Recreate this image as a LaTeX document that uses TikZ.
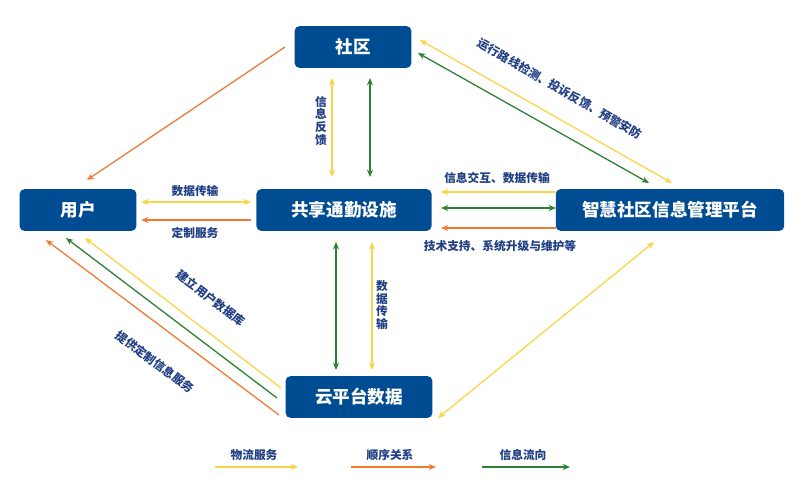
\documentclass[tikz,border=0pt]{standalone}
\usepackage{fontspec}
\setmainfont{Noto Sans CJK SC}
\usetikzlibrary{positioning,calc,arrows.meta}
\definecolor{boxblue}{RGB}{0,76,146}
\definecolor{txtblue}{RGB}{32,62,132}
\definecolor{ylw}{RGB}{250,212,70}
\definecolor{org}{RGB}{240,122,52}
\definecolor{grn}{RGB}{46,128,52}
\tikzset{
every picture/.style={line width=1.1pt},
bluebox/.style={rectangle, rounded corners=4pt, fill=boxblue, text=white, font=\bfseries\fontsize{15}{15}\selectfont, minimum height=1.25cm, inner sep=2pt},
lbl/.style={text=txtblue, font=\bfseries\fontsize{10}{11}\selectfont, inner sep=1pt},
vlbl/.style={lbl, align=center},
ya/.style={draw=ylw, -{Stealth[length=2.2mm,width=1.8mm]}},
yb/.style={draw=ylw, {Stealth[length=2.2mm,width=1.8mm]}-{Stealth[length=2.2mm,width=1.8mm]}},
oa/.style={draw=org, -{Stealth[length=2.2mm,width=1.8mm]}},
ga/.style={draw=grn, -{Stealth[length=2.2mm,width=1.8mm]}},
gb/.style={draw=grn, {Stealth[length=2.2mm,width=1.8mm]}-{Stealth[length=2.2mm,width=1.8mm]}}
}
\begin{document}
\begin{tikzpicture}[x=0.03cm, y=-0.03cm]
\useasboundingbox (0,0) rectangle (801,479);
%Nodes
\node [bluebox, minimum width=3.5cm] (sq) at (353,47) {社区};
\node [bluebox, minimum width=3.5cm] (yh) at (78,210) {用户};
\node [bluebox, minimum width=5.25cm] (gx) at (344,210) {共享通勤设施};
\node [bluebox, minimum width=6.85cm] (zh) at (670,210) {智慧社区信息管理平台};
\node [bluebox, minimum width=4.4cm] (yun) at (359,397) {云平台数据};

%Lines
\draw [oa] ($(sq)+(-68,0)$) -- ($(yh)+(9,-30)$);
\draw [yb] ($(sq)+(-21,31)$) -- ($(gx)+(-12,-33)$);
\draw [gb] ($(sq)+(17,31)$) -- ($(gx)+(26,-33)$);
\draw [yb] ($(sq)+(67,-7)$) -- ($(zh)+(2,-27)$);
\draw [gb] ($(sq)+(65,6)$) -- ($(zh)+(-21,-27)$);
\draw [yb] ($(yh)+(63,-8)$) -- ($(gx)+(-93,-8)$);
\draw [oa] ($(gx)+(-93,10)$) -- ($(yh)+(63,10)$);
\draw [ya] ($(zh)+(-114,-18)$) -- ($(gx)+(97,-18)$);
\draw [gb] ($(gx)+(97,-2)$) -- ($(zh)+(-114,-2)$);
\draw [oa] ($(zh)+(-114,18)$) -- ($(gx)+(97,18)$);
\draw [gb] ($(gx)+(-8,32)$) -- ($(yun)+(-23,-27)$);
\draw [yb] ($(gx)+(28,32)$) -- ($(yun)+(13,-27)$);
\draw [oa] ($(yun)+(-80,18)$) -- ($(yh)+(-32,30)$);
\draw [ga] ($(yun)+(-82,1)$) -- ($(yh)+(-12,28)$);
\draw [ya] ($(yun)+(-78,-9)$) -- ($(yh)+(7,28)$);
\draw [yb] ($(yun)+(79,21)$) -- ($(zh)+(-16,32)$);

%Labels
\node [vlbl] (fk) at (321,121) {信\\息\\反\\馈};
\node [lbl, rotate=-30] (jc) at (560,89) {运行路线检测、投诉反馈、预警安防};
\node [lbl] (sj1) at (195,191) {数据传输};
\node [lbl] (dz) at (195,233) {定制服务};
\node [lbl] (jh) at (497,178) {信息交互、数据传输};
\node [lbl] (js) at (500,246) {技术支持、系统升级与维护等};
\node [vlbl] (sj2) at (382,305) {数\\据\\传\\输};
\node [lbl, rotate=-37] (jl) at (211,298) {建立用户数据库};
\node [lbl, rotate=-37] (tg) at (155,362) {提供定制信息服务};

%Legend
\node [lbl] (lg1) at (254,455) {物流服务};
\node [lbl] (lg2) at (390,455) {顺序关系};
\node [lbl] (lg3) at (523,455) {信息流向};
\coordinate (y1) at (215,467); \coordinate (y2) at (298,467);
\coordinate (o1) at (351,467); \coordinate (o2) at (436,467);
\coordinate (g1) at (482,467); \coordinate (g2) at (570,467);
\draw [ya] (y1) -- (y2);
\draw [oa] (o1) -- (o2);
\draw [ga] (g1) -- (g2);
\end{tikzpicture}
\end{document}
